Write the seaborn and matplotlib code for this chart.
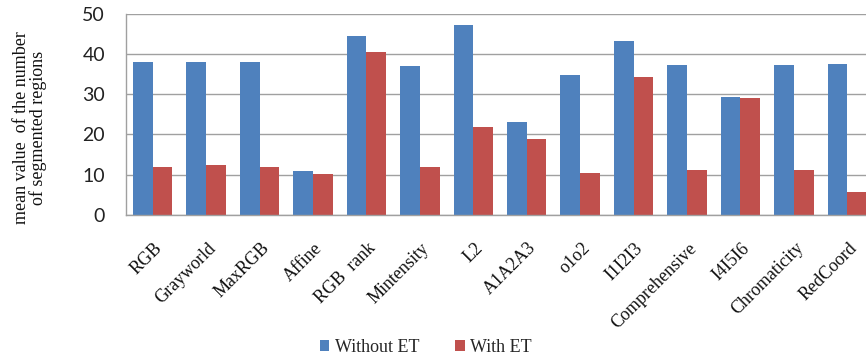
import matplotlib
matplotlib.use("Agg")
import matplotlib.pyplot as plt
import matplotlib.transforms as mtransforms
import pandas as pd
import seaborn as sns

# Colour-constancy methods compared
methods = ["RGB", "Grayworld", "MaxRGB", "Affine", "RGB  rank", "Mintensity", "L2",
           "A1A2A3", "o1o2", "I1I2I3", "Comprehensive", "I4I5I6", "Chromaticity", "RedCoord"]

# Mean number of segmented regions
without_et = [38.0, 37.9, 38.0, 11.0, 44.5, 37.1, 47.2, 23.0, 34.7, 43.1, 37.2, 29.3, 37.2, 37.6]
with_et = [11.9, 12.3, 11.9, 10.1, 40.6, 12.0, 21.9, 18.9, 10.4, 34.3, 11.1, 29.0, 11.1, 5.6]

series_names = ["Without ET", "With ET"]
series_colors = ["#4F81BD", "#C0504D"]
y_ticks = [0, 10, 20, 30, 40, 50]

df = pd.DataFrame({
    "method": methods * 2,
    "value": without_et + with_et,
    "series": [series_names[0]] * len(methods) + [series_names[1]] * len(methods),
})

sns.set_theme(style="white")
plt.rcParams["font.family"] = ["Liberation Serif", "DejaVu Serif"]

fig = plt.figure(figsize=(8.66, 3.58), dpi=100)
ax = fig.add_axes([126 / 866, 1 - 215 / 358, 748 / 866, (215 - 13.7) / 358])

sns.barplot(data=df, x="method", y="value", hue="series", order=methods,
            hue_order=series_names, palette=series_colors, width=0.74, gap=0,
            saturation=1, linewidth=0, ax=ax)

ax.set_xlim(-0.5, len(methods) - 0.5)
ax.set_ylim(0, 50)
ax.set_yticks(y_ticks)
ax.yaxis.grid(True, color="#a0a0a0", linewidth=1.0)
ax.xaxis.grid(False)
ax.set_axisbelow(True)
ax.set_xlabel("")
ax.set_ylabel("")

for side in ["top", "right"]:
    ax.spines[side].set_visible(False)
for side in ["left", "bottom"]:
    ax.spines[side].set_color("#a0a0a0")
    ax.spines[side].set_linewidth(1.0)

ax.tick_params(axis="y", length=0, pad=15, labelsize=14, labelcolor="#222222")
for lbl in ax.get_yticklabels():
    lbl.set_fontfamily(["Lato", "DejaVu Sans"])

ax.tick_params(axis="x", length=0, pad=22, labelsize=13, labelcolor="#111111")
shift = mtransforms.ScaledTranslation(7 / 100, 0, fig.dpi_scale_trans)
for lbl in ax.get_xticklabels():
    lbl.set_rotation(45)
    lbl.set_ha("right")
    lbl.set_va("center")
    lbl.set_rotation_mode("anchor")
    lbl.set_transform(lbl.get_transform() + shift)

fig.text(30 / 866, 1 - 128 / 358, "mean value  of the number\nof segmented regions",
         rotation=90, ha="center", va="center", multialignment="center",
         fontsize=13, linespacing=1.0, color="#111111")

handles, labels = ax.get_legend_handles_labels()
ax.get_legend().remove()
fig.legend(handles, labels, loc="center", bbox_to_anchor=(426 / 866, 1 - 347.5 / 358),
           ncol=2, frameon=False, fontsize=13, handlelength=0.5, handleheight=0.5,
           handletextpad=0.3, columnspacing=2.0, borderaxespad=0, borderpad=0)

fig.savefig("out.png", dpi=100)
